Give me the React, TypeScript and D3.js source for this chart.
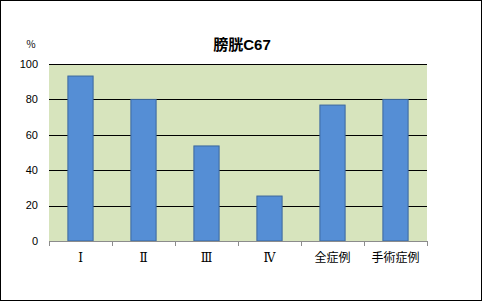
import React from "react";
import * as d3 from "d3";

const categories = ["Ⅰ", "Ⅱ", "Ⅲ", "Ⅳ", "全症例", "手術症例"];
const values = [93.2, 80.0, 53.7, 25.4, 76.8, 80.0];
const yTicks = [0, 20, 40, 60, 80, 100];
const title = "膀胱C67";
const unit = "％";

export default function App() {
  const W = 482, H = 301;
  const left = 49, right = 427, top = 64, bottom = 241;
  const x = d3.scaleBand<string>().domain(categories).range([left, right]).padding(0);
  const y = d3.scaleLinear().domain([0, 100]).range([bottom, top]);
  const bw = x.bandwidth() / 2.5;
  const bounds = categories.map((c) => x(c)!).concat([right]);
  return (
    <svg width={W} height={H} style={{ position: "absolute", left: 0, top: 0, display: "block" }}>
      <rect x={0.5} y={0.5} width={W - 1} height={H - 1} fill="#fff" stroke="#000" strokeWidth={1} />
      <rect x={left} y={top} width={right - left} height={bottom - top} fill="#D7E4BD" />
      {yTicks.filter((t) => t > 0).map((t) => (
        <line key={t} x1={left} x2={right} y1={Math.round(y(t)) + 0.5} y2={Math.round(y(t)) + 0.5} stroke="#000" strokeWidth={1} />
      ))}
      {categories.map((c, i) => {
        const cx = x(c)! + x.bandwidth() / 2;
        return (
          <rect key={c} x={cx - bw / 2} y={y(values[i])} width={bw} height={bottom - y(values[i])}
            fill="#558ED5" stroke="#3B679D" strokeWidth={1} />
        );
      })}
      <line x1={left} x2={right} y1={bottom + 0.5} y2={bottom + 0.5} stroke="#8C8C8C" />
      {bounds.map((b, i) => (
        <line key={i} x1={Math.round(b) + 0.5} x2={Math.round(b) + 0.5} y1={bottom} y2={bottom + 5} stroke="#8C8C8C" />
      ))}
      {yTicks.map((t) => (
        <text key={t} x={38} y={y(t)} dy="0.35em" textAnchor="end" fontSize={11}
          fontFamily="'Liberation Sans', Arial, sans-serif" fill="#000">{t}</text>
      ))}
      {categories.map((c) => (
        <text key={c} x={x(c)! + x.bandwidth() / 2} y={262} textAnchor="middle" fontSize={12}
          fontFamily="'DejaVu Serif', 'Noto Sans CJK JP', serif" fill="#000">{c}</text>
      ))}
      <text x={242} y={50} textAnchor="middle" fontSize={15} fontWeight="bold"
        fontFamily="'Liberation Sans', 'Noto Sans CJK JP', sans-serif" fill="#000">{title}</text>
      <text x={31} y={48} textAnchor="middle" fontSize={10}
        fontFamily="'Noto Sans CJK JP', sans-serif" fill="#000">{unit}</text>
    </svg>
  );
}
